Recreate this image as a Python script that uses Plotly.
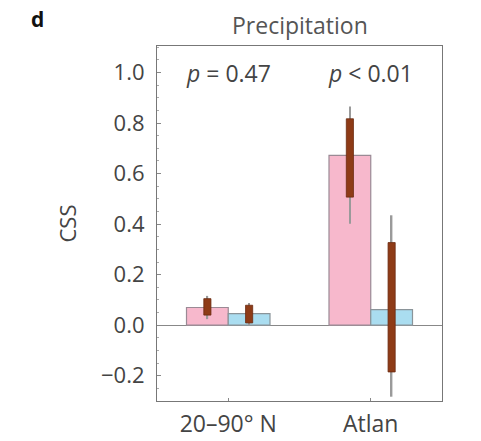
import plotly.graph_objects as go

categories = ["20–90° N", "Atlan"]
pink_vals = [0.07, 0.672]
blue_vals = [0.046, 0.062]
# brown box (inner range) and whisker (outer range)
pink_q_lo = [0.04, 0.507]
pink_q_hi = [0.105, 0.817]
pink_w_lo = [0.024, 0.402]
pink_w_hi = [0.116, 0.866]
blue_q_lo = [0.009, -0.185]
blue_q_hi = [0.079, 0.327]
blue_w_lo = [0.0, -0.283]
blue_w_hi = [0.088, 0.435]
p_labels = ["<i>p</i> = 0.47", "<i>p</i> < 0.01"]

xs = list(range(len(categories)))
BW = 0.293
FONT = "Open Sans"
FS = 23

fig = go.Figure()
fig.add_trace(go.Bar(x=xs, y=pink_vals, width=BW, offset=-BW,
                     marker=dict(color="#F7B8CC", line=dict(color="#9a8a95", width=1.2))))
fig.add_trace(go.Bar(x=xs, y=blue_vals, width=BW, offset=0,
                     marker=dict(color="#AADDF0", line=dict(color="#8a9499", width=1.2))))

WW = 0.011
QW = 0.05
for lo, hi, c in [(pink_w_lo, pink_w_hi, -BW / 2), (blue_w_lo, blue_w_hi, BW / 2)]:
    fig.add_trace(go.Bar(x=xs, y=[h - l for l, h in zip(lo, hi)], base=lo, width=WW,
                         offset=c - WW / 2, marker=dict(color="#9a9a9a", line=dict(width=0))))
for lo, hi, c in [(pink_q_lo, pink_q_hi, -BW / 2), (blue_q_lo, blue_q_hi, BW / 2)]:
    fig.add_trace(go.Bar(x=xs, y=[h - l for l, h in zip(lo, hi)], base=lo, width=QW,
                         offset=c - QW / 2, marker=dict(color="#8E3B17", line=dict(color="#6a2a10", width=0.8))))

for x, t in zip(xs, p_labels):
    fig.add_annotation(x=x, y=1.0, text=t, showarrow=False, xref="x", yref="y",
                       font=dict(family=FONT, size=FS, color="#444"), yanchor="middle")

fig.add_annotation(x=0.5, y=1.0, xref="paper", yref="paper", yshift=21, text="Precipitation",
                   showarrow=False, font=dict(family=FONT, size=FS, color="#555"), yanchor="middle")
fig.add_annotation(x=-0.42, y=1.0, xref="paper", yref="paper", yshift=27, text="<b>d</b>",
                   showarrow=False, font=dict(family=FONT, size=21, color="#111"), xanchor="center", yanchor="middle")

fig.update_layout(
    width=481, height=441,
    margin=dict(l=157, r=39, t=46, b=40),
    paper_bgcolor="white", plot_bgcolor="white",
    barmode="overlay", showlegend=False,
    font=dict(family=FONT, size=FS, color="#444"),
    xaxis=dict(range=[-0.5, 1.5], tickvals=xs, ticktext=categories, ticks="inside", ticklen=3,
               tickcolor="#888", showline=True, linecolor="#777", linewidth=1.2, mirror=True,
               showgrid=False, zeroline=False, tickfont=dict(size=FS), automargin=False,
               ticklabelstandoff=2),
    yaxis=dict(range=[-0.3, 1.105], tickvals=[-0.2, 0, 0.2, 0.4, 0.6, 0.8, 1.0],
               ticktext=["−0.2", "0.0", "0.2", "0.4", "0.6", "0.8", "1.0"],
               ticks="inside", ticklen=4, tickcolor="#888", showline=True, linecolor="#777",
               linewidth=1.2, mirror=True, showgrid=False, zeroline=True, zerolinecolor="#888",
               zerolinewidth=1.2, tickfont=dict(size=FS - 1), ticklabelstandoff=7,
               automargin=False,
               minor=dict(ticks="inside", ticklen=2, dtick=0.05, tickcolor="#aaa"),
               title=dict(text="CSS", font=dict(size=FS - 1), standoff=18)),
)

fig.write_html("out.html")
